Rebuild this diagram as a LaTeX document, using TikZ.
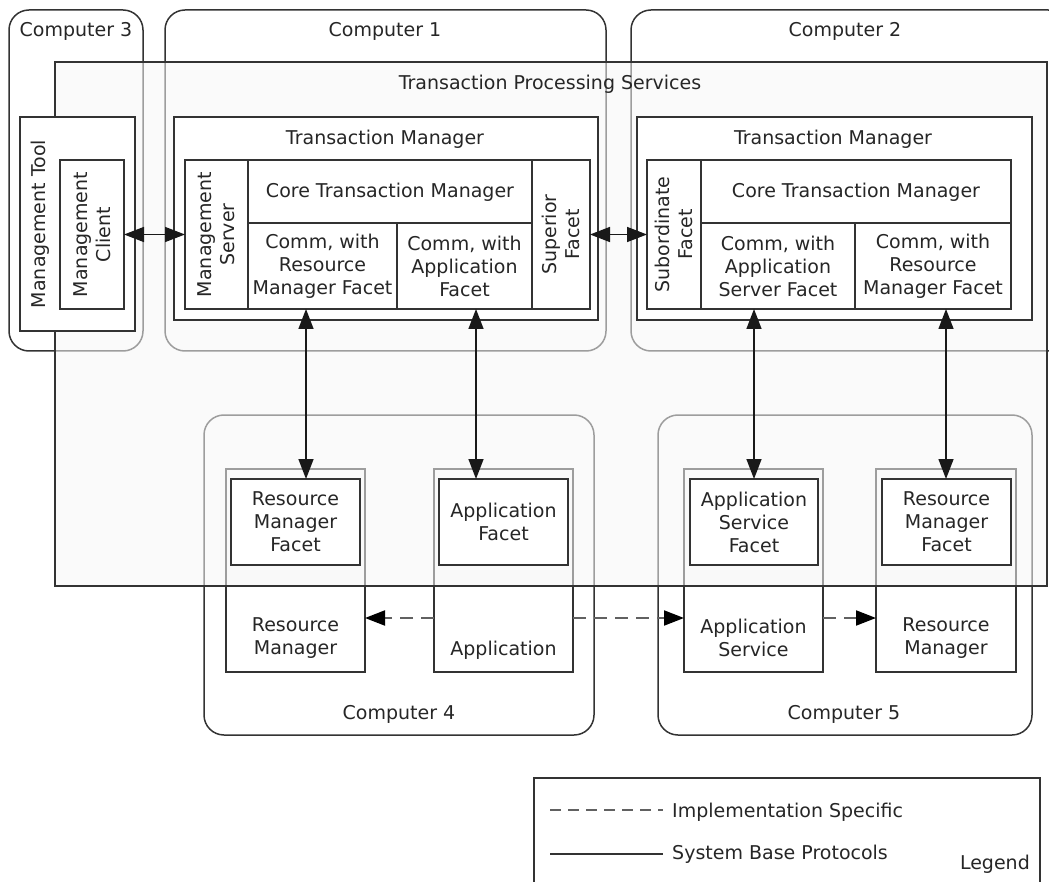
\documentclass[tikz,border=0pt]{standalone}
\usepackage{fontspec}
\setmainfont{DejaVu Sans}
\usetikzlibrary{arrows.meta,fit}
\begin{document}
\begin{tikzpicture}[x=1pt,y=-1pt,
  lbl/.style={font=\fontsize{19}{23}\selectfont, text=black!85, align=center, inner sep=0pt},
  comp/.style={draw=black!80, line width=1.5pt, rounded corners=20pt, inner sep=0pt, outer sep=0pt},
  box/.style={draw=black!80, line width=1.7pt, fill=white, inner sep=0pt, outer sep=0pt},
  obox/.style={draw=black!80, line width=1.7pt, fill=white, inner sep=0pt, outer sep=0pt},
  sarr/.style={draw=black!90, line width=1.5pt, -{Triangle[length=20pt,width=15pt]}},
  darr/.style={draw=black!90, line width=1.5pt, {Triangle[length=20pt,width=15pt]}-{Triangle[length=20pt,width=15pt]}},
  dline/.style={draw=black!62, line width=2pt, dash pattern=on 13pt off 8pt},
  dsarr/.style={dline, -{Triangle[length=20pt,width=15pt,color=black]}},
]
\useasboundingbox (0,0) rectangle (1049,882);
\begin{scope}
\clip (0,0) rectangle (1049,882);
% computers
\node[comp, fit={(9,10)(143,351)}] (c3) {};
\node[comp, fit={(165,10)(606,351)}] (c1) {};
\node[comp, fit={(631,10)(1068,351)}] (c2) {};
\node[comp, fit={(204,415)(594,735)}] (c4) {};
\node[comp, fit={(658,415)(1032,735)}] (c5) {};
\node[lbl] (c3t) at (76,31) {Computer 3};
\node[lbl] (c1t) at (385,31) {Computer 1};
\node[lbl] (c2t) at (845,31) {Computer 2};
\node[lbl] (c4t) at (399,714) {Computer 4};
\node[lbl] (c5t) at (844,714) {Computer 5};
% component outer boxes
\node[obox, fit={(226,469)(365,672)}] (rm4) {};
\node[obox, fit={(434,469)(573,672)}] (app4) {};
\node[obox, fit={(684,469)(823,672)}] (as5) {};
\node[obox, fit={(876,469)(1016,672)}] (rm5) {};
\node[lbl] (rm4t) at (295.5,638) {Resource\\Manager};
\node[lbl] (app4t) at (503.5,650) {Application};
\node[lbl] (as5t) at (753.5,638) {Application\\Service};
\node[lbl] (rm5t) at (946,638) {Resource\\Manager};
% transaction processing services
\node[draw=black!80, line width=1.7pt, fill=black!4, fill opacity=0.55, inner sep=0pt, outer sep=0pt, fit={(55,62)(1047,586)}] (tps) {};
\node[lbl] (tpst) at (550,84) {Transaction Processing Services};
% management
\node[obox, fit={(20,117)(135,331)}] (mtool) {};
\node[lbl, rotate=90] (mtoolt) at (40,224) {Management Tool};
\node[obox, fit={(60,160)(124,309)}] (mclient) {};
\node[lbl, rotate=90] (mclientt) at (mclient.center) {Management\\Client};
% TM 1
\node[obox, fit={(174,117)(598,320)}] (tm1) {};
\node[lbl] (tm1t) at (385,139) {Transaction Manager};
\node[obox, fit={(185,160)(248,309)}] (mserver) {};
\node[lbl, rotate=90] (mservert) at (mserver.center) {Management\\Server};
\node[box, fit={(248,160)(532,223)}] (core1) {};
\node[lbl] at ([yshift=-1pt]core1.center) {Core Transaction Manager};
\node[box, fit={(248,223)(397,309)}] (commrm1) {};
\node[lbl] at (commrm1.center) {Comm, with\\Resource\\Manager Facet};
\node[box, fit={(397,223)(532,309)}] (commapp1) {};
\node[lbl] at (commapp1.center) {Comm, with\\Application\\Facet};
\node[obox, fit={(532,160)(590,309)}] (sup) {};
\node[lbl, rotate=90] (supt) at (sup.center) {Superior\\Facet};
% TM 2
\node[obox, fit={(637,117)(1032,320)}] (tm2) {};
\node[lbl] (tm2t) at (833,139) {Transaction Manager};
\node[obox, fit={(647,160)(701,309)}] (sub) {};
\node[lbl, rotate=90] (subt) at (sub.center) {Subordinate\\Facet};
\node[box, fit={(701,160)(1011,223)}] (core2) {};
\node[lbl] at ([yshift=-1pt]core2.center) {Core Transaction Manager};
\node[box, fit={(701,223)(855,309)}] (commas2) {};
\node[lbl] at (commas2.center) {Comm, with\\Application\\Server Facet};
\node[box, fit={(855,223)(1011,309)}] (commrm2) {};
\node[lbl] at (commrm2.center) {Comm, with\\Resource\\Manager Facet};
% facets
\node[obox, fit={(231,479)(360,565)}] (rmf4) {};
\node[lbl] at (rmf4.center) {Resource\\Manager\\Facet};
\node[obox, fit={(439,479)(568,565)}] (appf4) {};
\node[lbl] at (appf4.center) {Application\\Facet};
\node[obox, fit={(690,479)(818,565)}] (asf5) {};
\node[lbl] at (asf5.center) {Application\\Service\\Facet};
\node[obox, fit={(882,479)(1011,565)}] (rmf5) {};
\node[lbl] at (rmf5.center) {Resource\\Manager\\Facet};
% arrows
\draw[darr] (mclient) -- (mserver);
\draw[darr] (sup) -- (sub);
\coordinate (x1) at (306,0);
\coordinate (x2) at (476,0);
\coordinate (x3) at (754,0);
\coordinate (x4) at (946,0);
\draw[darr] (x1 |- commrm1.south) -- (x1 |- rmf4.north);
\draw[darr] (x2 |- commapp1.south) -- (x2 |- appf4.north);
\draw[darr] (x3 |- commas2.south) -- (x3 |- asf5.north);
\draw[darr] (x4 |- commrm2.south) -- (x4 |- rmf5.north);
\coordinate (dy) at (0,618);
\draw[dsarr] (dy -| app4.west) -- (dy -| rm4.east);
\draw[dsarr] (dy -| app4.east) -- (dy -| as5.west);
\draw[dsarr] (dy -| as5.east) -- (dy -| rm5.west);
% legend
\node[obox, fit={(534,778)(1040,910)}] (legend) {};
\coordinate (l1a) at (550,810);
\coordinate (l1b) at (663,810);
\coordinate (l2a) at (550,854);
\coordinate (l2b) at (663,854);
\draw[dline, dash pattern=on 11pt off 7pt] (l1a) -- (l1b);
\draw[draw=black!80, line width=1.7pt] (l2a) -- (l2b);
\node[lbl, anchor=west] (l1t) at (672,812) {Implementation Specific};
\node[lbl, anchor=west] (l2t) at (672,854) {System Base Protocols};
\node[lbl, anchor=east] (legt) at (1030,864) {Legend};
\end{scope}
\end{tikzpicture}
\end{document}
